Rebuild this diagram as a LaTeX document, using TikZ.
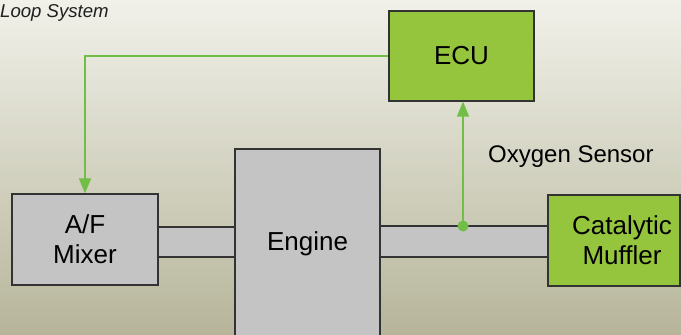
\documentclass[tikz,border=0pt]{standalone}
\usepackage{fontspec}
\setmainfont{Liberation Sans}
\usetikzlibrary{arrows.meta,calc}
\definecolor{boxgreen}{HTML}{95C43D}
\definecolor{linegreen}{HTML}{70BE46}
\definecolor{boxgray}{HTML}{C4C4C4}
\definecolor{edgegray}{HTML}{333333}
\definecolor{bgtop}{HTML}{F1F1EA}
\definecolor{bgmid}{HTML}{E0E0D2}
\definecolor{bgbot}{HTML}{B6B59A}
\tikzset{
  blk/.style={draw=edgegray, line width=1.2pt, inner sep=0pt, align=center,
              font=\fontsize{26}{30}\selectfont},
  graybox/.style={blk, fill=boxgray},
  greenbox/.style={blk, fill=boxgreen},
  link/.style={draw=linegreen, line width=1.5pt},
  tip/.style={-{Triangle[width=12pt,length=15pt]}}
}
\begin{document}
\begin{tikzpicture}[x=1pt,y=-1pt]
\useasboundingbox (0,0) rectangle (681,335);
\clip (0,0) rectangle (681,335);
\shade[top color=bgtop, middle color=bgmid, bottom color=bgbot] (0,0) rectangle (681,335);
% bars
\node[graybox, minimum width=77pt, minimum height=30pt] (bar1) at (196.5,242) {};
\node[graybox, minimum width=168pt, minimum height=31pt] (bar2) at (464,241.5) {};
% boxes
\node[greenbox, minimum width=145pt, minimum height=90pt] (ecu) at (461.5,56) {ECU};
\node[graybox, minimum width=146pt, minimum height=91pt] (mixer) at (85,239.5) {A/F\\Mixer};
\node[graybox, minimum width=145pt, minimum height=189pt] (engine) at (307.5,243.5) {Engine};
\node[greenbox, minimum width=132pt, minimum height=91pt] (cat) at (614,240.5) {};
\node[font=\fontsize{26}{30}\selectfont, align=center] (catlbl) at (622,240.5) {Catalytic\\Muffler};
% labels
\node[anchor=base west, inner sep=0pt, font=\fontsize{24}{28}\selectfont] (oxy) at (488,162) {Oxygen Sensor};
\node[anchor=base west, inner sep=0pt, text=black!88, font=\fontsize{18.6}{20}\selectfont\itshape] (title) at (0,17) {Loop System};
% connectors
\coordinate (sensor) at (463,226);
\draw[link, tip] (ecu.west) -| (mixer.north);
\draw[link, tip] (sensor) -- (sensor |- ecu.south);
\fill[linegreen] (sensor) circle (5.5pt);
\end{tikzpicture}
\end{document}
